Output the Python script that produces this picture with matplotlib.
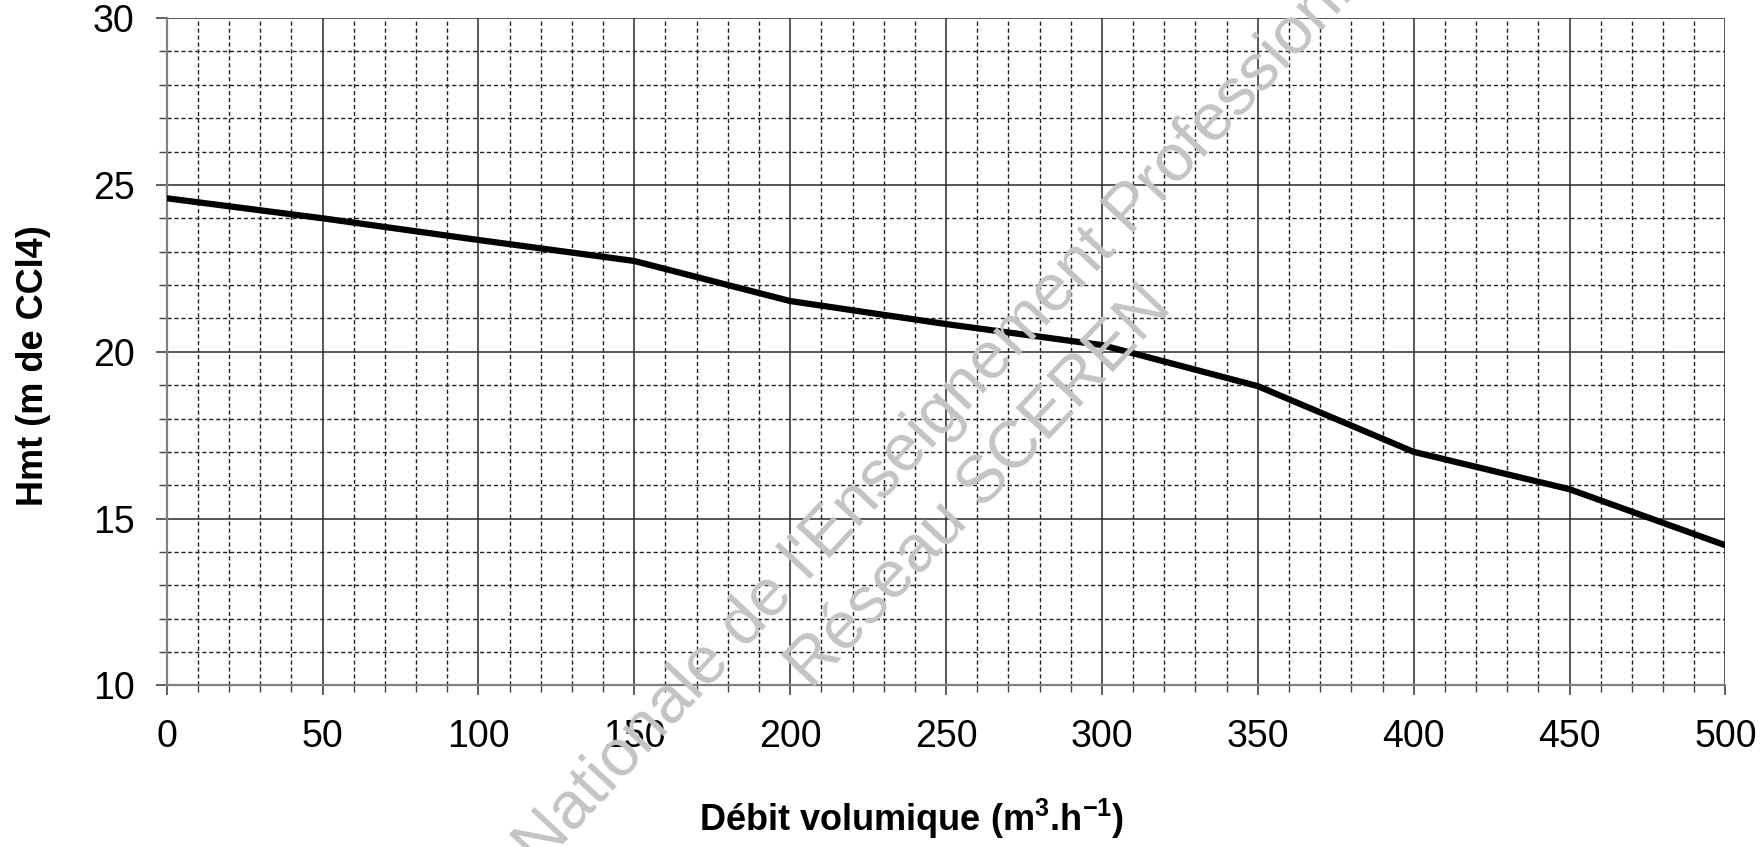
import matplotlib
matplotlib.use("Agg")
import matplotlib.pyplot as plt
from matplotlib.ticker import MultipleLocator

plt.rcParams['font.family'] = ['Liberation Sans', 'DejaVu Sans']
plt.rcParams['mathtext.fontset'] = 'custom'
plt.rcParams['mathtext.rm'] = 'Liberation Sans'
plt.rcParams['mathtext.bf'] = 'Liberation Sans:bold'

# Data
debit = [0, 50, 100, 150, 200, 250, 300, 350, 400, 450, 500]
hmt = [24.6, 24.0, 23.35, 22.72, 21.52, 20.83, 20.2, 18.97, 17.0, 15.88, 14.2]
xticks = [0, 50, 100, 150, 200, 250, 300, 350, 400, 450, 500]
yticks = [10, 15, 20, 25, 30]

fig = plt.figure(figsize=(17.65, 8.47), dpi=100)
ax = fig.add_axes([0.0944, 0.1907, 0.8832, 0.788])

ax.set_xlim(0, 500)
ax.set_ylim(10, 30)
ax.set_xticks(xticks)
ax.set_yticks(yticks)
ax.xaxis.set_minor_locator(MultipleLocator(10))
ax.yaxis.set_minor_locator(MultipleLocator(1))

ax.grid(which='major', color='#2a2a2a', linestyle='-', linewidth=1.1)
ax.grid(which='minor', color='#222222', linestyle=(0, (3, 2)), linewidth=1.0)
ax.set_axisbelow(True)

for s in ['top', 'right']:
    ax.spines[s].set_visible(False)
for s in ['left', 'bottom']:
    ax.spines[s].set_color('#808080')
    ax.spines[s].set_linewidth(1.6)

ax.tick_params(axis='y', which='major', length=8, width=1.2, color='#444444',
               labelsize=27, pad=15)
ax.tick_params(axis='y', which='minor', length=6, width=1.0, color='#444444')
ax.tick_params(axis='x', which='major', length=7, width=1.2, color='#444444',
               labelsize=27, pad=17)
ax.tick_params(axis='x', which='minor', length=5, width=1.0, color='#444444')

ax.plot(debit, hmt, color='black', linewidth=4.5, solid_joinstyle='round', zorder=5)

# Watermark
fig.text(0.306, -0.027, "Nationale de l'Enseignement Professionnel", fontsize=48,
         color='#c4c4c4', rotation=47, rotation_mode='anchor', ha='left',
         va='baseline', zorder=10)
fig.text(0.460, 0.185, "Réseau SCEREN", fontsize=48,
         color='#c4c4c4', rotation=46.5, rotation_mode='anchor', ha='left',
         va='baseline', zorder=10)

fig.text(0.5166, 0.019, r'Débit volumique (m$^{\mathbf{3}}$.h$^{\mathbf{-1}}$)',
         fontsize=26, fontweight='bold', ha='center', va='baseline')
fig.text(0.019, 0.568, 'Hmt (m de CCl4)', fontsize=26, fontweight='bold',
         rotation=90, ha='center', va='center')

fig.savefig('out.png', dpi=100)
